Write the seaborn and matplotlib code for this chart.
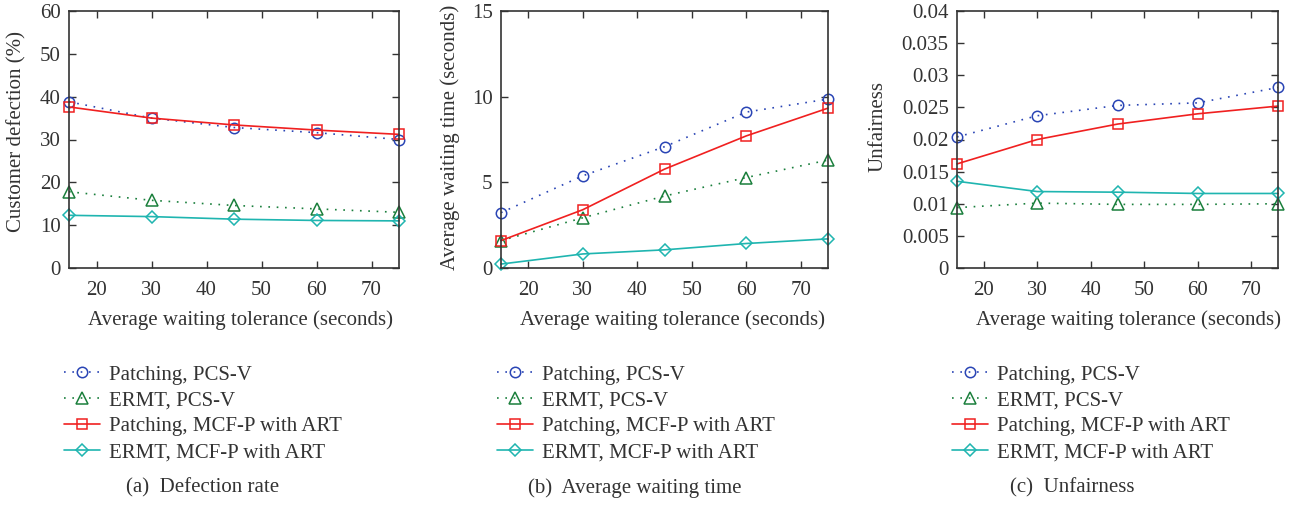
import matplotlib
matplotlib.use("Agg")
import matplotlib.pyplot as plt
import seaborn as sns
import pandas as pd

# Average waiting tolerance (seconds)
tolerance = [15, 30, 45, 60, 75]

series_names = [
    "Patching, PCS-V",
    "ERMT, PCS-V",
    "Patching, MCF-P with ART",
    "ERMT, MCF-P with ART",
]

# (a) Customer defection (%)
defection_patching_pcsv = [38.8, 35.0, 32.8, 31.6, 30.0]
defection_ermt_pcsv = [17.8, 15.8, 14.6, 13.8, 13.0]
defection_patching_mcfp = [37.6, 35.0, 33.4, 32.2, 31.2]
defection_ermt_mcfp = [12.3, 12.0, 11.4, 11.1, 11.0]

# (b) Average waiting time (seconds)
wait_patching_pcsv = [3.23, 5.38, 7.08, 9.10, 9.86]
wait_ermt_pcsv = [1.60, 2.93, 4.20, 5.28, 6.30]
wait_patching_mcfp = [1.60, 3.40, 5.77, 7.71, 9.33]
wait_ermt_mcfp = [0.23, 0.82, 1.06, 1.43, 1.70]

# (c) Unfairness
unfair_patching_pcsv = [0.0204, 0.0237, 0.0253, 0.0257, 0.0281]
unfair_ermt_pcsv = [0.0094, 0.0101, 0.0099, 0.0099, 0.0100]
unfair_patching_mcfp = [0.0162, 0.0200, 0.0224, 0.0240, 0.0252]
unfair_ermt_mcfp = [0.0135, 0.0119, 0.0118, 0.0116, 0.0116]

panels = [
    dict(values=[defection_patching_pcsv, defection_ermt_pcsv,
                 defection_patching_mcfp, defection_ermt_mcfp],
         ylabel="Customer defection (%)", ylim=(0, 60),
         yticks=[0, 10, 20, 30, 40, 50, 60],
         yticklabels=["0", "10", "20", "30", "40", "50", "60"],
         caption="(a)  Defection rate"),
    dict(values=[wait_patching_pcsv, wait_ermt_pcsv,
                 wait_patching_mcfp, wait_ermt_mcfp],
         ylabel="Average waiting time (seconds)", ylim=(0, 15),
         yticks=[0, 5, 10, 15],
         yticklabels=["0", "5", "10", "15"],
         caption="(b)  Average waiting time"),
    dict(values=[unfair_patching_pcsv, unfair_ermt_pcsv,
                 unfair_patching_mcfp, unfair_ermt_mcfp],
         ylabel="Unfairness", ylim=(0, 0.04),
         yticks=[0, 0.005, 0.01, 0.015, 0.02, 0.025, 0.03, 0.035, 0.04],
         yticklabels=["0", "0.005", "0.01", "0.015", "0.02", "0.025",
                      "0.03", "0.035", "0.04"],
         caption="(c)  Unfairness"),
]

xticks = [20, 30, 40, 50, 60, 70]

styles = [
    dict(color="#2a45b5", marker="o", linestyle=(0, (1, 4))),
    dict(color="#1a7f3c", marker="^", linestyle=(0, (1, 4))),
    dict(color="#f02020", marker="s", linestyle="-"),
    dict(color="#1fb5b0", marker="D", linestyle="-"),
]
marker_sizes = {"o": 7.5, "^": 8, "s": 6.5, "D": 6}

sns.set_theme(style="ticks")
plt.rcParams["font.family"] = ["Liberation Serif", "DejaVu Serif"]
plt.rcParams["font.size"] = 15

W, H = 1291, 505
fig = plt.figure(figsize=(W / 100, H / 100), dpi=100)

# axes boxes in pixels: left, right, top, bottom
boxes = [(69, 399, 11, 268), (501, 828, 11, 268), (957, 1278, 11, 268)]
legend_x = [64, 497, 952]
caption_x = [203, 635, 1072]
xlabel_x = [240, 672, 1129]
ylabel_pos = [(17, 132), (450, 137), (878, 126)]

text_color = "#333333"
fs = 15

for i, (panel, box) in enumerate(zip(panels, boxes)):
    l, r, t, b = box
    ax = fig.add_axes([l / W, (H - b) / H, (r - l) / W, (b - t) / H])
    for name, vals, st in zip(series_names, panel["values"], styles):
        df = pd.DataFrame({"tolerance": tolerance, "value": vals})
        sns.lineplot(data=df, x="tolerance", y="value", ax=ax,
                     color=st["color"], linestyle=st["linestyle"],
                     marker=st["marker"], markersize=marker_sizes[st["marker"]],
                     markerfacecolor="none", markeredgecolor=st["color"],
                     markeredgewidth=1.1, linewidth=1.2, label=name,
                     legend=False, clip_on=False)
    ax.set_xlim(15, 75)
    ax.set_ylim(*panel["ylim"])
    ax.set_xticks(xticks)
    ax.set_xticklabels([str(v) for v in xticks])
    ax.set_yticks(panel["yticks"])
    ax.set_yticklabels(panel["yticklabels"])
    ax.tick_params(direction="in", length=5, width=1.0, top=True, right=True,
                   labelsize=fs, colors="#333333", labelcolor=text_color)
    ax.tick_params(axis="x", pad=9.5)
    ax.tick_params(axis="y", pad=6)
    for sp in ax.spines.values():
        sp.set_color("#333333")
        sp.set_linewidth(1.2)
    ax.set_xlabel("")
    ax.set_ylabel("")

    yx, yy = ylabel_pos[i]
    fig.text(yx / W, (H - yy) / H, panel["ylabel"], rotation=90,
             ha="center", va="center", fontsize=fs, color=text_color)
    fig.text(xlabel_x[i] / W, (H - 320) / H,
             "Average waiting tolerance (seconds)", ha="center", va="center",
             fontsize=fs, color=text_color)

    handles, labels = ax.get_legend_handles_labels()
    ax.legend(handles, labels, loc="upper left",
              bbox_to_anchor=(legend_x[i] / W, (H - 365) / H),
              bbox_transform=fig.transFigure, frameon=False, fontsize=fs,
              handlelength=1.75, handletextpad=0.4, labelspacing=0.3,
              borderpad=0, borderaxespad=0, labelcolor=text_color)

    fig.text(caption_x[i] / W, (H - 488) / H, panel["caption"],
             ha="center", va="center", fontsize=fs, color=text_color)

fig.savefig("out.png", dpi=100)
